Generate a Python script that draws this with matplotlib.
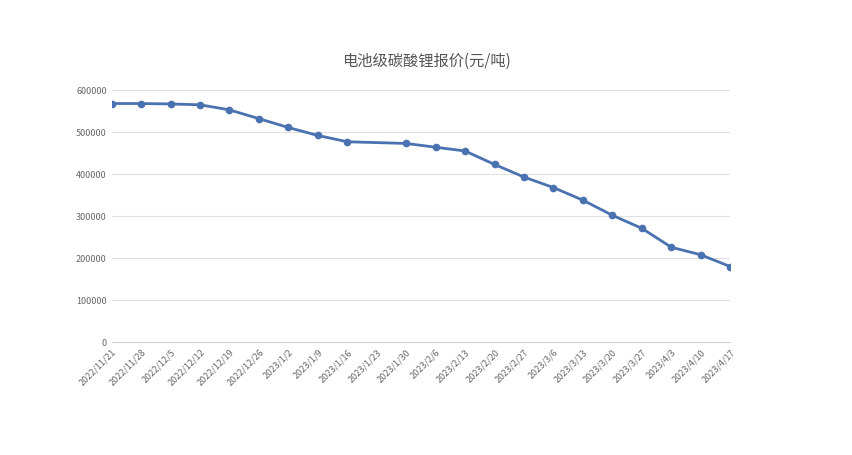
import numpy as np
import matplotlib.pyplot as plt

plt.rcParams['font.family'] = ['Noto Sans CJK SC', 'DejaVu Sans']

dates = ['2022/11/21', '2022/11/28', '2022/12/5', '2022/12/12', '2022/12/19', '2022/12/26',
         '2023/1/2', '2023/1/9', '2023/1/16', '2023/1/23', '2023/1/30', '2023/2/6',
         '2023/2/13', '2023/2/20', '2023/2/27', '2023/3/6', '2023/3/13', '2023/3/20',
         '2023/3/27', '2023/4/3', '2023/4/10', '2023/4/17']
# no quote for 2023/1/23
prices = [568000, 568000, 567000, 565000, 553000, 532000, 511000, 492000, 477000, np.nan,
          473000, 464000, 455000, 423000, 393000, 368000, 338000, 302000, 271000, 226000,
          208000, 180000]

x = np.arange(len(dates))
y = np.array(prices, dtype=float)
ok = ~np.isnan(y)

fig = plt.figure(figsize=(8.52, 4.55), dpi=100, facecolor='white')
ax = fig.add_axes([0.131, 0.248, 0.726, 0.554])

ax.plot(x[ok], y[ok], color='#4a72b0', lw=2, marker='o', ms=4.5)

ax.set_xlim(0, len(dates) - 1)
ax.set_ylim(0, 600000)
ax.set_yticks(np.arange(0, 600001, 100000))
ax.set_xticks(x)
ax.set_xticklabels(dates, rotation=45, ha='right', rotation_mode='anchor')
ax.tick_params(axis='both', length=0, labelsize=6.5, colors='#666666')
ax.tick_params(axis='x', pad=4)
ax.grid(axis='y', color='#e0e0e0', lw=0.8)
ax.set_axisbelow(True)
for side in ['top', 'right', 'left']:
    ax.spines[side].set_visible(False)
ax.spines['bottom'].set_color('#d0d0d0')

fig.text(0.5, 0.855, '电池级碳酸锂报价(元/吨)', ha='center', fontsize=11, color='#555555')

fig.savefig('out.png', dpi=100, facecolor='white')
